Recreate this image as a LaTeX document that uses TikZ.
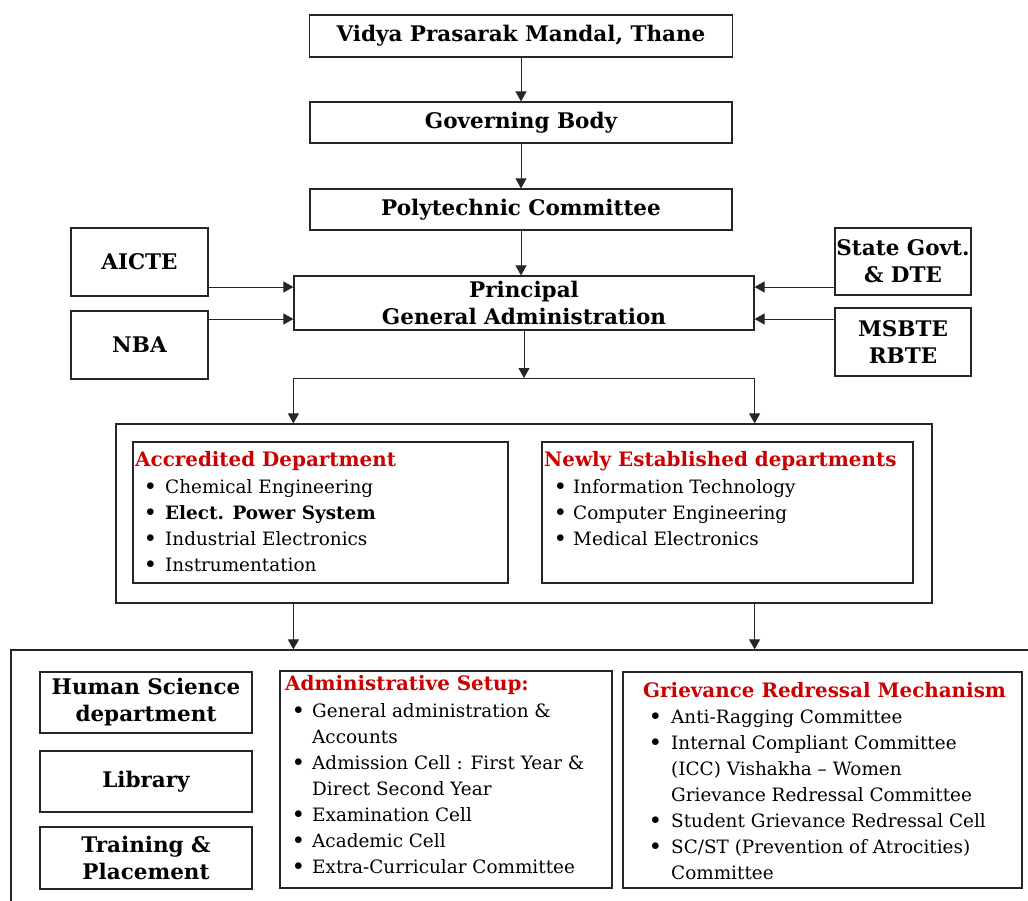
\documentclass[tikz,border=0pt]{standalone}
\usepackage{fontspec}
\setmainfont{DejaVu Serif}
\usetikzlibrary{positioning,arrows.meta}

\definecolor{headred}{RGB}{204,0,0}
\newcommand{\boxfnt}{\fontsize{21.5}{27}\selectfont\bfseries}
\newcommand{\headfnt}{\fontsize{19.9}{26}\selectfont\bfseries}
\newcommand{\listfnt}{\fontsize{18.4}{26}\selectfont}
\newcommand{\bul}{\raisebox{2.2pt}{$\bullet$}}

\tikzset{
  box/.style={draw=black!85, line width=1.2pt, fill=white, inner sep=0pt, align=center, font=\boxfnt},
  arr/.style={draw=black!85, line width=0.9pt, -{Triangle[length=10pt,width=11pt]}},
  headtext/.style={anchor=base west, inner sep=0pt, text=headred, font=\headfnt},
  listtext/.style={anchor=base west, inner sep=0pt, font=\listfnt},
}

\begin{document}
\begin{tikzpicture}[x=1pt, y=-1pt]
\useasboundingbox (0,0) rectangle (1028,901);
\fill[white] (0,0) rectangle (1028,901);
\clip (0,0) rectangle (1028,901);

% management chain
\node[box, minimum width=423pt, minimum height=42pt] (vpm) at (521,36) {Vidya Prasarak Mandal, Thane};
\node[box, minimum width=422pt, minimum height=41pt] (gov) at (521,122.5) {Governing Body};
\node[box, minimum width=422pt, minimum height=41pt] (polycom) at (521,209.5) {Polytechnic Committee};
\node[box, minimum width=460pt, minimum height=54pt] (principal) at (524,303) {Principal\\General Administration};

% outside bodies
\node[box, minimum width=137pt, minimum height=68pt] (aicte) at (139.5,262) {AICTE};
\node[box, minimum width=137pt, minimum height=68pt] (nba) at (139.5,345) {NBA};
\node[box, minimum width=136pt, minimum height=67pt] (stategovt) at (903,261.5) {State Govt.\\\& DTE};
\node[box, minimum width=136pt, minimum height=68pt] (msbte) at (903,342) {MSBTE\\RBTE};

% departments
\node[box, minimum width=816pt, minimum height=179pt] (deptouter) at (524,513.5) {};
\node[box, minimum width=375pt, minimum height=141pt] (accr) at (320.5,512.5) {};
\node[box, minimum width=371pt, minimum height=141pt] (newdept) at (727.5,512.5) {};
\node[headtext] (accrhead) at (135,466) {Accredited Department};
\node[listtext] (accrlist) at (146,493) {\begin{tabular}[t]{@{}p{19pt}@{}l@{}}
\bul & Chemical Engineering\\
\bul & \textbf{Elect. Power System}\\
\bul & Industrial Electronics\\
\bul & Instrumentation
\end{tabular}};
\node[headtext] (newhead) at (544,466) {Newly Established departments};
\node[listtext] (newlist) at (556,493) {\begin{tabular}[t]{@{}p{17pt}@{}l@{}}
\bul & Information Technology\\
\bul & Computer Engineering\\
\bul & Medical Electronics
\end{tabular}};

% support units
\node[box, minimum width=1029pt, minimum height=265pt] (botouter) at (525.5,782.5) {};
\node[box, minimum width=212pt, minimum height=61pt] (humsci) at (146,702.5) {Human Science\\department};
\node[box, minimum width=212pt, minimum height=61pt] (library) at (146,781.5) {Library};
\node[box, minimum width=212pt, minimum height=62pt] (training) at (146,858) {Training \&\\Placement};
\node[box, minimum width=332pt, minimum height=217pt] (admin) at (446,779.5) {};
\node[box, minimum width=399pt, minimum height=216pt] (grievance) at (822.5,780) {};
\node[headtext] (adminhead) at (285,690) {Administrative Setup:};
\node[listtext] (adminlist) at (294,717) {\begin{tabular}[t]{@{}p{18pt}@{}l@{}}
\bul & General administration \&\\
 & Accounts\\
\bul & Admission Cell : First Year \&\\
 & Direct Second Year\\
\bul & Examination Cell\\
\bul & Academic Cell\\
\bul & Extra-Curricular Committee
\end{tabular}};
\node[headtext] (grievhead) at (643,697) {Grievance Redressal Mechanism};
\node[listtext] (grievlist) at (651,723) {\begin{tabular}[t]{@{}p{20pt}@{}l@{}}
\bul & Anti-Ragging Committee\\
\bul & Internal Compliant Committee\\
 & (ICC) Vishakha \textendash{} Women\\
 & Grievance Redressal Committee\\
\bul & Student Grievance Redressal Cell\\
\bul & SC/ST (Prevention of Atrocities)\\
 & Committee
\end{tabular}};

% connectors
\draw[arr] (vpm.south) -- (gov.north);
\draw[arr] (gov.south) -- (polycom.north);
\draw[arr] (polycom.south) -- (polycom.south |- principal.north);
\draw[arr] ([yshift=-25pt]aicte.east) -- ([yshift=-25pt]aicte.east -| principal.west);
\draw[arr] ([yshift=26pt]nba.east) -- ([yshift=26pt]nba.east -| principal.west);
\draw[arr] ([yshift=-25.5pt]stategovt.west) -- ([yshift=-25.5pt]stategovt.west -| principal.east);
\draw[arr] ([yshift=23pt]msbte.west) -- ([yshift=23pt]msbte.west -| principal.east);
\coordinate (split) at (524,378);
\draw[arr] (principal.south) -- (split);
\draw[draw=black!85, line width=0.9pt] (split -| principal.west) -- (split -| principal.east);
\draw[arr] (split -| principal.west) -- (principal.west |- deptouter.north);
\draw[arr] (split -| principal.east) -- (principal.east |- deptouter.north);
\draw[arr] (principal.west |- deptouter.south) -- (principal.west |- botouter.north);
\draw[arr] (principal.east |- deptouter.south) -- (principal.east |- botouter.north);
\end{tikzpicture}
\end{document}
